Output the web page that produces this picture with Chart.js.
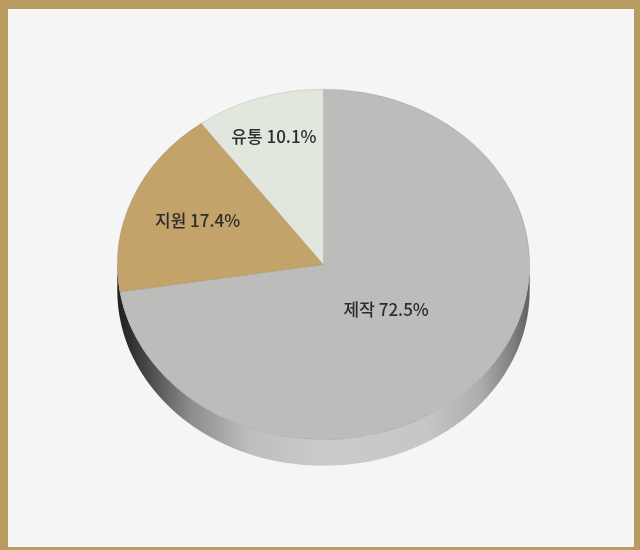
<!DOCTYPE html>
<html lang="ko">
<head>
<meta charset="utf-8">
<script src="https://cdn.jsdelivr.net/npm/chart.js@4.4.1/dist/chart.umd.min.js"></script>
<style>
    html, body { margin: 0; padding: 0; }
    body { width: 640px; height: 550px; background: #b99c62; position: relative; overflow: hidden; }
    .panel { position: absolute; left: 8px; top: 9px; right: 6px; bottom: 3px; background: #f4f5f4; }
    #pieChart { position: absolute; left: 0; top: 0; }
</style>
</head>
<body>
<div class="panel"></div>
<canvas id="pieChart" width="640" height="550"></canvas>
<script>
const sectors = ["제작", "지원", "유통"];
const shares = [72.5, 17.4, 10.1];
const sectorColors = ["#bcbcba", "#c3a36a", "#e2e7de"];

// how far out along the slice each label sits (fraction of radius)
const labelReach = [0.40, 0.66, 0.77];

const tilt = 175.5 / 206.5;   // vertical squash of the disc
const depth = 26;             // thickness of the disc in pixels

const discPlugin = {
    id: "disc3d",
    beforeDatasetsDraw(chart) {
        const { ctx } = chart;
        const arc = chart.getDatasetMeta(0).data[0];
        if (!arc) return;
        const cx = arc.x;
        const cy = arc.y;
        const r = arc.outerRadius;
        const d = depth / tilt;

        ctx.save();
        ctx.translate(cx, cy);
        ctx.scale(1, tilt);

        const side = ctx.createLinearGradient(-r, 0, r, 0);
        side.addColorStop(0, "#1e1e1e");
        side.addColorStop(0.06, "#404040");
        side.addColorStop(0.18, "#8e8e8e");
        side.addColorStop(0.32, "#bdbdbd");
        side.addColorStop(0.5, "#cbcbcb");
        side.addColorStop(0.75, "#c6c6c6");
        side.addColorStop(0.88, "#adadad");
        side.addColorStop(0.95, "#858585");
        side.addColorStop(1, "#606060");

        ctx.beginPath();
        ctx.moveTo(r, 0);
        ctx.lineTo(r, d);
        ctx.arc(0, d, r, 0, Math.PI, false);
        ctx.lineTo(-r, 0);
        ctx.arc(0, 0, r, Math.PI, 0, true);
        ctx.closePath();
        ctx.fillStyle = side;
        ctx.fill();

        // keep the squash on while the slices are drawn
        ctx.translate(-cx, -cy);
    },
    afterDatasetsDraw(chart) {
        const { ctx } = chart;
        ctx.restore();

        const meta = chart.getDatasetMeta(0);
        ctx.save();
        ctx.font = "500 17px 'Noto Sans CJK KR', sans-serif";
        ctx.fillStyle = "#2c2c2c";
        ctx.textAlign = "center";
        ctx.textBaseline = "middle";
        meta.data.forEach((slice, i) => {
            const mid = (slice.startAngle + slice.endAngle) / 2;
            const reach = slice.outerRadius * labelReach[i];
            const x = slice.x + Math.cos(mid) * reach;
            const y = slice.y + Math.sin(mid) * reach * tilt;
            ctx.fillText(`${sectors[i]} ${shares[i].toFixed(1)}%`, x, y);
        });
        ctx.restore();
    },
};

new Chart(document.getElementById("pieChart"), {
    type: "pie",
    data: {
        labels: sectors,
        datasets: [{
            data: shares,
            backgroundColor: sectorColors,
            borderColor: "rgba(120, 110, 90, 0.35)",
            borderWidth: 0.6,
        }],
    },
    options: {
        responsive: false,
        animation: false,
        layout: {
            padding: { left: 117, right: 110, top: 58, bottom: 79 },
        },
        plugins: {
            legend: { display: false },
            tooltip: { enabled: false },
        },
    },
    plugins: [discPlugin],
});
</script>
</body>
</html>
